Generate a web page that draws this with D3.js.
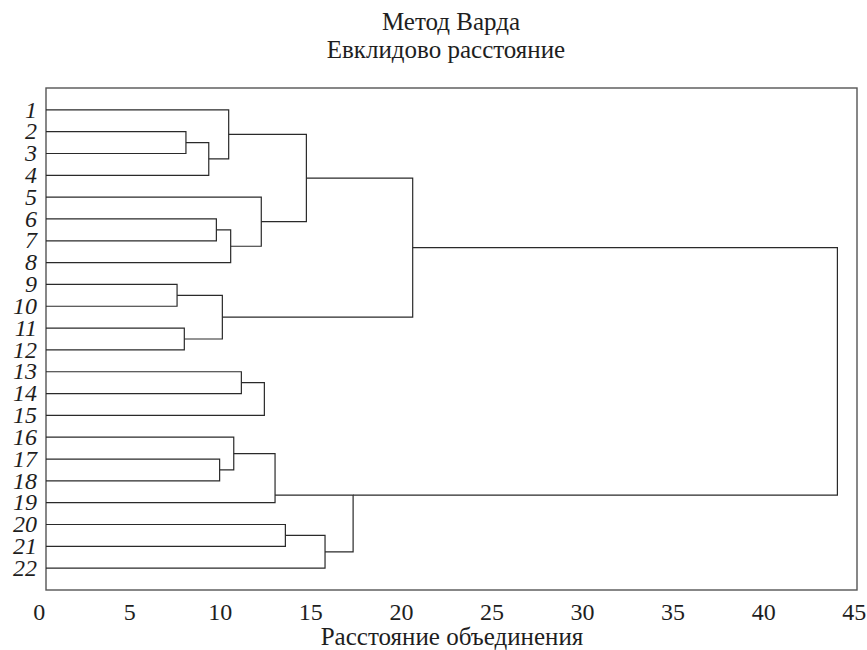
<!DOCTYPE html>
<html>
<head>
<meta charset="utf-8">
<script src="https://cdn.jsdelivr.net/npm/d3@7"></script>
<style>
    body { margin: 0; background: #fff; }
</style>
</head>
<body>
<div id="chart"></div>
<script>
// objects (leaves of the tree), top to bottom
const leaves = ['1','2','3','4','5','6','7','8','9','10','11','12','13','14','15','16','17','18','19','20','21','22'];

// merges: id, the two joined clusters and the linkage distance
const mergeIds    = ['A','B','C','D','E','F','G','H','I','J','K','L','M','N','O','P','Q','R','S','T'];
const mergeLeft   = ['2','A','1','6','D','5','C','9','11','H','G','13','L','17','16','O','20','Q','P','K'];
const mergeRight  = ['3','4','B','7','8','E','F','10','12','I','J','14','15','18','N','19','21','22','R','S'];
const mergeHeight = [8.13, 9.39, 10.49, 9.81, 10.6, 12.29, 14.78, 7.64, 8.04, 10.14, 20.65, 11.19, 12.46, 9.99, 10.77, 13.05, 13.62, 15.81, 17.36, 44.1];

// the figure draws these nodes off their bracket midpoint (leaf units)
const posOverride = { P: 18.65, S: 18.65 };

const xTicks = [0, 5, 10, 15, 20, 25, 30, 35, 40, 45];

let svgWidth = 867;
let svgHeight = 650;
let serif = "'Liberation Serif', 'Times New Roman', Times, serif";

// plot frame
let frame = { left: 46, right: 857, top: 88, bottom: 590 };

let svg = d3.select('#chart')
    .append('svg')
    .attr('width', svgWidth)
    .attr('height', svgHeight)
    .attr('font-family', serif);

// scales
let x = d3.scaleLinear().domain([0, 45]).range([38.7, 853.7]);
let y = d3.scaleLinear().domain([0, leaves.length + 1]).range([frame.top, frame.bottom]);

// build node table
let nodes = {};
leaves.forEach((l, i) => { nodes[l] = { pos: i + 1, h: null }; });
mergeIds.forEach((id, i) => {
    let a = nodes[mergeLeft[i]];
    let b = nodes[mergeRight[i]];
    let pos = posOverride[id] !== undefined ? posOverride[id] : (a.pos + b.pos) / 2;
    nodes[id] = { pos: pos, h: mergeHeight[i], a: a, b: b };
});

// frame
svg.append('rect')
    .attr('x', frame.left)
    .attr('y', frame.top)
    .attr('width', frame.right - frame.left)
    .attr('height', frame.bottom - frame.top)
    .attr('fill', 'none')
    .attr('stroke', '#555')
    .attr('stroke-width', 1.4);

// tree lines
let tree = svg.append('g')
    .attr('fill', 'none')
    .attr('stroke', '#2a2a2a')
    .attr('stroke-width', 1.2);

let childX = n => n.h === null ? frame.left : x(n.h);

mergeIds.forEach(id => {
    let n = nodes[id];
    let xm = x(n.h);
    let path = d3.path();
    path.moveTo(childX(n.a), y(n.a.pos));
    path.lineTo(xm, y(n.a.pos));
    path.lineTo(xm, y(n.b.pos));
    path.lineTo(childX(n.b), y(n.b.pos));
    tree.append('path').attr('d', path.toString());
});

// leaf labels
svg.append('g')
    .selectAll('text')
    .data(leaves)
    .enter()
    .append('text')
    .attr('x', 37)
    .attr('y', d => y(nodes[d].pos))
    .attr('dy', '0.32em')
    .attr('text-anchor', 'end')
    .attr('font-style', 'italic')
    .attr('font-size', 24)
    .attr('fill', '#1e1e1e')
    .text(d => d);

// x axis (labels only)
let xAxis = svg.append('g')
    .attr('transform', `translate(0, ${frame.bottom})`)
    .call(d3.axisBottom(x).tickValues(xTicks).tickSize(0).tickPadding(13));
xAxis.select('.domain').remove();
xAxis.attr('font-family', serif);
xAxis.selectAll('text')
    .attr('font-size', 24)
    .attr('fill', '#1e1e1e');

// axis title
svg.append('text')
    .attr('x', 452)
    .attr('y', 645)
    .attr('text-anchor', 'middle')
    .attr('font-size', 25)
    .attr('fill', '#1e1e1e')
    .text('Расстояние объединения');

// chart title
svg.append('text')
    .attr('x', 451)
    .attr('y', 30)
    .attr('text-anchor', 'middle')
    .attr('font-size', 25)
    .attr('fill', '#1e1e1e')
    .text('Метод Варда');

svg.append('text')
    .attr('x', 446)
    .attr('y', 58)
    .attr('text-anchor', 'middle')
    .attr('font-size', 25)
    .attr('fill', '#1e1e1e')
    .text('Евклидово расстояние');
</script>
</body>
</html>
